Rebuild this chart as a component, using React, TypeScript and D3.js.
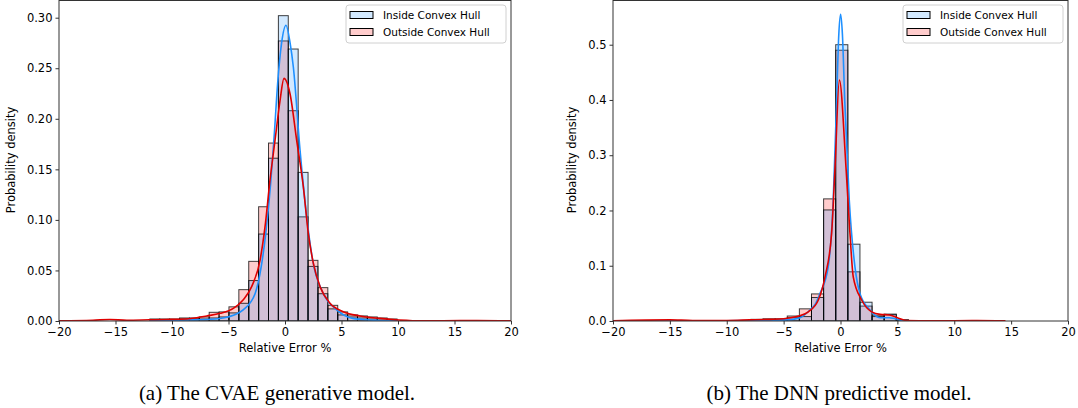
import React, { useRef, useEffect } from 'react';
import * as d3 from 'd3';

const xTicks = [-20, -15, -10, -5, 0, 5, 10, 15, 20];
const cvaeYTicks = [0, 0.05, 0.1, 0.15, 0.2, 0.25, 0.3];
const dnnYTicks = [0, 0.1, 0.2, 0.3, 0.4, 0.5];
const legendLabels = ['Inside Convex Hull', 'Outside Convex Hull'];

// histogram: left edge of first bin, bin width, density per bin
const cvaeBinStart = -11.96;
const cvaeBinWidth = 0.875;
const cvaeInside = [0, 0, 0, 0.002, 0.002, 0.002, 0.003, 0.004, 0.008, 0.0175, 0.04, 0.086, 0.161,
  0.302, 0.269, 0.147, 0.054, 0.027, 0.012, 0.006, 0.004, 0.003, 0.002, 0.001, 0.001];
const cvaeOutside = [0.002, 0.002, 0.002, 0.003, 0.003, 0.004, 0.0086, 0.009, 0.014, 0.031, 0.059, 0.113, 0.176,
  0.277, 0.208, 0.103, 0.06, 0.033, 0.0155, 0.009, 0.006, 0.005, 0.004, 0.003, 0.002];

const dnnBinStart = -7.875;
const dnnBinWidth = 1.065;
const dnnInside = [0.001, 0.002, 0.002, 0.006, 0.008, 0.0425, 0.201, 0.5, 0.139, 0.034, 0.008, 0.0125, 0.002];
const dnnOutside = [0.003, 0.004, 0.004, 0.009, 0.022, 0.049, 0.221, 0.49, 0.089, 0.027, 0.0105, 0.0115, 0.002];

// kde curves, [x, density]
const cvaeKdeInside: [number, number][] = [
  [-12, 0], [-9, 0.001], [-7, 0.0015], [-5.5, 0.003], [-4.5, 0.006], [-3.7, 0.011], [-2.65, 0.027],
  [-2.1, 0.054], [-1.7, 0.087], [-1.27, 0.136], [-0.94, 0.186], [-0.65, 0.235], [-0.3, 0.275],
  [0.09, 0.2925], [0.45, 0.275], [0.74, 0.251], [1.33, 0.169], [1.92, 0.103], [2.45, 0.06],
  [3.4, 0.027], [4.57, 0.011], [6, 0.0026], [7.5, 0.001], [10, 0],
];
const cvaeKdeOutside: [number, number][] = [
  [-20, 0.0003], [-17, 0.0008], [-15.5, 0.0015], [-14, 0.0008], [-12, 0.0012], [-10.5, 0.0015],
  [-9.3, 0.0017], [-8, 0.003], [-6.93, 0.005], [-5.75, 0.0076], [-4.57, 0.0125], [-3.69, 0.021],
  [-2.95, 0.034], [-2.21, 0.06], [-1.77, 0.093], [-1.33, 0.139], [-0.88, 0.179], [-0.44, 0.218],
  [-0.09, 0.24], [0.44, 0.225], [1.03, 0.179], [1.62, 0.133], [2.06, 0.087], [2.51, 0.057],
  [3.1, 0.034], [3.98, 0.0175], [5.16, 0.0092], [6.64, 0.005], [8.4, 0.0026], [11.3, 0.0003],
  [14, 0.0002], [17, 0.0005], [20, 0.0001],
];
const dnnKdeInside: [number, number][] = [
  [-20, 0], [-10, 0.0005], [-6, 0.001], [-4.7, 0.002], [-3.56, 0.006], [-2.68, 0.02], [-2.2, 0.031],
  [-1.8, 0.05], [-1.08, 0.098], [-0.64, 0.219], [-0.34, 0.4], [-0.15, 0.518], [0.01, 0.555],
  [0.17, 0.518], [0.37, 0.4], [0.77, 0.219], [1.27, 0.098], [1.71, 0.05], [2.59, 0.02],
  [3.47, 0.006], [4.3, 0.006], [4.8, 0.004], [5.5, 0.001], [7, 0],
];
const dnnKdeOutside: [number, number][] = [
  [-20, 0.0005], [-15, 0.002], [-13, 0.001], [-10, 0.001], [-8, 0.002], [-6.2, 0.003], [-5, 0.004],
  [-3.85, 0.008], [-2.83, 0.0166], [-1.95, 0.038], [-1.36, 0.08], [-0.78, 0.159], [-0.48, 0.279],
  [-0.1, 0.436], [0.48, 0.279], [0.83, 0.159], [1.12, 0.08], [1.86, 0.038], [2.74, 0.0166],
  [3.5, 0.012], [4.3, 0.011], [5, 0.006], [5.8, 0.001], [8, 0.0003], [12, 0.0008], [14.5, 0.0003],
];

const blueFill = 'rgba(30,144,255,0.2)';
const redFill = 'rgba(255,0,0,0.2)';
const blueLine = '#1e90ff';
const redLine = '#e00000';
const font = 'DejaVu Sans, sans-serif';
const fs = 11.5;

type PanelProps = {
  id: string;
  left: number;
  right: number;
  yMax: number;
  yTicks: number[];
  yFmt: string;
  yLabelX: number;
  binStart: number;
  binWidth: number;
  inside: number[];
  outside: number[];
  kdeIn: [number, number][];
  kdeOut: [number, number][];
  caption: string;
  captionX: number;
};

const Panel = (p: PanelProps) => {
  const gRef = useRef<SVGGElement>(null);

  useEffect(() => {
    const g = d3.select(gRef.current);
    g.selectAll('*').remove();

    const top = 0.5;
    const bottom = 321;
    const x = d3.scaleLinear().domain([-20, 20]).range([p.left, p.right]);
    const y = d3.scaleLinear().domain([0, p.yMax]).range([bottom, top]);

    g.append('clipPath')
      .attr('id', `clip-${p.id}`)
      .append('rect')
      .attr('x', p.left)
      .attr('y', top)
      .attr('width', p.right - p.left)
      .attr('height', bottom - top);

    const plot = g.append('g').attr('clip-path', `url(#clip-${p.id})`);

    // histograms (outside first, inside layered on top)
    const drawBars = (vals: number[], fill: string) => {
      plot
        .append('g')
        .selectAll('rect')
        .data(vals)
        .enter()
        .append('rect')
        .attr('x', (d, i) => x(p.binStart + i * p.binWidth))
        .attr('y', (d) => y(d))
        .attr('width', x(p.binStart + p.binWidth) - x(p.binStart))
        .attr('height', (d) => bottom - y(d))
        .attr('fill', fill)
        .attr('stroke', 'rgba(0,0,0,0.75)')
        .attr('stroke-width', 1);
    };
    drawBars(p.outside, redFill);
    drawBars(p.inside, blueFill);

    // kde lines
    const line = d3
      .line<[number, number]>()
      .x((d) => x(d[0]))
      .y((d) => y(d[1]))
      .curve(d3.curveMonotoneX);
    plot.append('path').attr('d', line(p.kdeIn)).attr('fill', 'none').attr('stroke', blueLine).attr('stroke-width', 1.6);
    plot.append('path').attr('d', line(p.kdeOut)).attr('fill', 'none').attr('stroke', redLine).attr('stroke-width', 1.6);

    // frame
    g.append('rect')
      .attr('x', p.left)
      .attr('y', top)
      .attr('width', p.right - p.left)
      .attr('height', bottom - top)
      .attr('fill', 'none')
      .attr('stroke', '#333')
      .attr('stroke-width', 1);

    // x axis
    const xAxis = d3.axisBottom(x).tickValues(xTicks).tickSize(3.5).tickPadding(3)
      .tickFormat((d) => d3.format('d')(d as number).replace('-', '\u2212'));
    g.append('g')
      .attr('transform', `translate(0, ${bottom})`)
      .call(xAxis)
      .call((s) => s.select('.domain').remove())
      .call((s) => s.selectAll('text').attr('font-size', fs).attr('font-family', font).attr('fill', '#000'))
      .call((s) => s.selectAll('line').attr('stroke', '#333'));

    // y axis
    const yAxis = d3.axisLeft(y).tickValues(p.yTicks).tickSize(3.5).tickPadding(3).tickFormat(d3.format(p.yFmt) as any);
    g.append('g')
      .attr('transform', `translate(${p.left}, 0)`)
      .call(yAxis)
      .call((s) => s.select('.domain').remove())
      .call((s) => s.selectAll('text').attr('font-size', fs).attr('font-family', font).attr('fill', '#000'))
      .call((s) => s.selectAll('line').attr('stroke', '#333'));

    // labels
    g.append('text')
      .attr('x', (p.left + p.right) / 2)
      .attr('y', 352)
      .attr('text-anchor', 'middle')
      .attr('font-family', font)
      .attr('font-size', fs)
      .text('Relative Error %');

    g.append('text')
      .attr('transform', `translate(${p.yLabelX}, 160) rotate(-90)`)
      .attr('text-anchor', 'middle')
      .attr('font-family', font)
      .attr('font-size', fs)
      .text('Probability density');

    // legend
    const lw = 160;
    const lx = p.right - 5 - lw;
    const ly = 5;
    const leg = g.append('g');
    leg.append('rect')
      .attr('x', lx)
      .attr('y', ly)
      .attr('width', lw)
      .attr('height', 38)
      .attr('rx', 3)
      .attr('fill', 'rgba(255,255,255,0.8)')
      .attr('stroke', '#d0d0d0');
    [blueFill, redFill].forEach((c, i) => {
      const cy = ly + 10 + i * 17;
      leg.append('rect')
        .attr('x', lx + 4)
        .attr('y', cy - 3.5)
        .attr('width', 23)
        .attr('height', 7)
        .attr('fill', c)
        .attr('stroke', '#000')
        .attr('stroke-width', 1);
      leg.append('text')
        .attr('x', lx + 37)
        .attr('y', cy + 3.8)
        .attr('font-family', font)
        .attr('font-size', 10.5)
        .text(legendLabels[i]);
    });

    // caption
    g.append('text')
      .attr('x', p.captionX)
      .attr('y', 400)
      .attr('text-anchor', 'middle')
      .attr('font-family', 'Liberation Serif, Times New Roman, serif')
      .attr('font-size', 21)
      .text(p.caption);
  }, [p]);

  return <g ref={gRef} />;
};

export default function App() {
  return (
    <svg width={1078} height={408} style={{ position: 'absolute', left: 0, top: 0, background: '#fff' }}>
      <Panel
        id="cvae"
        left={59}
        right={511}
        yMax={0.317}
        yTicks={cvaeYTicks}
        yFmt=".2f"
        yLabelX={15}
        binStart={cvaeBinStart}
        binWidth={cvaeBinWidth}
        inside={cvaeInside}
        outside={cvaeOutside}
        kdeIn={cvaeKdeInside}
        kdeOut={cvaeKdeOutside}
        caption="(a) The CVAE generative model."
        captionX={277}
      />
      <Panel
        id="dnn"
        left={613}
        right={1068}
        yMax={0.58}
        yTicks={dnnYTicks}
        yFmt=".1f"
        yLabelX={576}
        binStart={dnnBinStart}
        binWidth={dnnBinWidth}
        inside={dnnInside}
        outside={dnnOutside}
        kdeIn={dnnKdeInside}
        kdeOut={dnnKdeOutside}
        caption="(b) The DNN predictive model."
        captionX={839}
      />
    </svg>
  );
}
